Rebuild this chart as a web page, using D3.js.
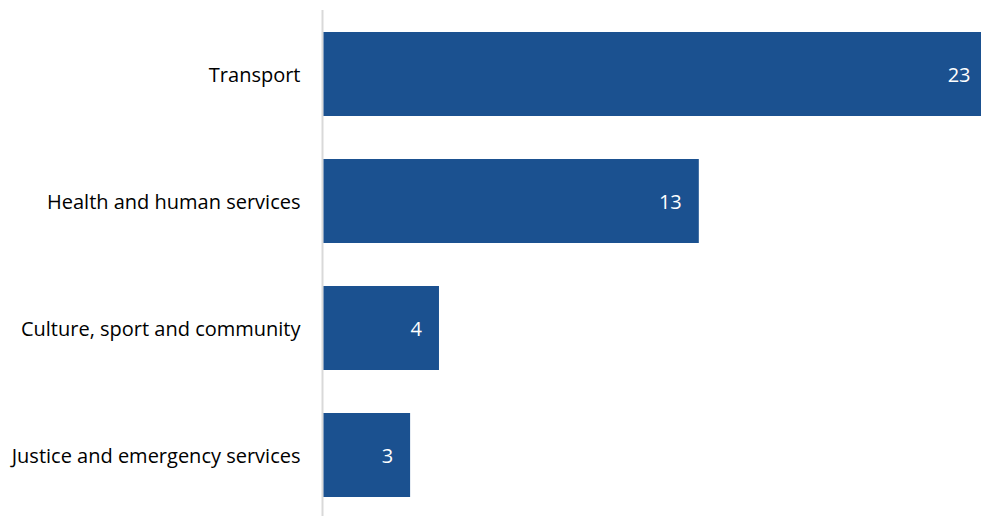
<!DOCTYPE html>
<html>
<head>
<meta charset="utf-8">
<script src="https://cdn.jsdelivr.net/npm/d3@7"></script>
<style>
  body { margin: 0; background: #fff; }
  svg { display: block; font-family: "Open Sans", "Noto Sans", sans-serif; }
</style>
</head>
<body>
<svg id="chart" width="981" height="516"></svg>
<script>
const categories = ['Transport', 'Health and human services', 'Culture, sport and community', 'Justice and emergency services']
const values = [23, 13, 4, 3]

const width = 981, height = 516
const margin = { top: 10, left: 323 }

const svg = d3.select('#chart')

// the longest bar runs slightly past the right edge in the original
const x = d3.scaleLinear().domain([0, 23]).range([margin.left + 0.5, 987.5])
const y = d3.scaleBand().domain(categories).range([32, 497]).paddingInner(43 / 127).paddingOuter(0)

// category axis
const axisY = d3.axisLeft(y).tickSize(0).tickPadding(22)
const gy = svg.append('g')
    .attr('transform', `translate(${margin.left - 0.5}, 0)`)
    .call(axisY)
gy.select('.domain').remove()
gy.selectAll('text')
    .attr('fill', '#000')
    .attr('dy', '0.42em')
    .style('font-size', '20px')
    .style('font-family', '"Open Sans", "Noto Sans", sans-serif')

svg.append('line')
    .attr('x1', margin.left - 0.5).attr('x2', margin.left - 0.5)
    .attr('y1', margin.top).attr('y2', height)
    .attr('stroke', '#d9d9d9')
    .attr('stroke-width', 2)

const data = categories.map((c, i) => ({ cat: c, val: values[i] }))

svg.append('g').selectAll('rect').data(data)
    .join('rect')
    .attr('x', x(0))
    .attr('y', d => y(d.cat))
    .attr('width', d => x(d.val) - x(0))
    .attr('height', y.bandwidth())
    .attr('fill', '#1b5190')

svg.append('g').selectAll('text').data(data)
    .join('text')
    .attr('x', d => x(d.val) - 17)
    .attr('y', d => y(d.cat) + y.bandwidth() / 2)
    .attr('dy', '0.4em')
    .attr('text-anchor', 'end')
    .attr('fill', '#fff')
    .style('font-size', '20px')
    .text(d => d.val)
</script>
</body>
</html>
